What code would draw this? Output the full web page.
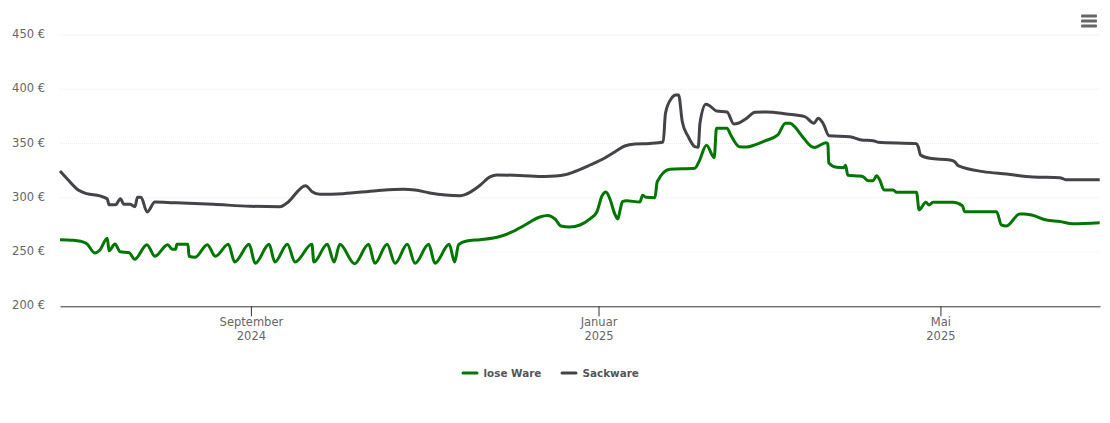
<!DOCTYPE html>
<html>
<head>
<meta charset="utf-8">
<script src="https://cdn.jsdelivr.net/npm/d3@7"></script>
<style>
  html, body { margin: 0; padding: 0; background: #fff; }
  text { font-family: "DejaVu Sans", sans-serif; }
</style>
</head>
<body>
<div id="chart"></div>
<script>
// Values. Days are counted from the first day of the chart.
const startDay = Date.UTC(2024, 5, 26);
const dayCount = 365;

const looseDays = [0, 4.7, 9.1, 12.3, 14, 16.6, 17.2, 19.3, 21.1, 24.3, 26.2, 30.5, 33.3, 37.8, 39.4, 40.6, 41, 44.9, 45.3, 47.4, 51.7, 54.5, 59.1, 61.3, 66.4, 68.5, 73.4, 75.4, 79.8, 82.5, 88.4, 89.1, 93.8, 96.2, 98.2, 103.4, 108.3, 110.5, 114.8, 117.6, 121.9, 124.6, 129.4, 131.6, 136.6, 138.5, 139.9, 142.7, 147.4, 154.4, 158.6, 163.2, 168.4, 171.2, 173.7, 175.8, 178.9, 182.5, 186, 188.4, 190.2, 191.6, 193, 194.7, 195.8, 196.5, 197.4, 198.8, 203.5, 204.5, 205.6, 208.8, 209.6, 214, 222.8, 224.2, 226.9, 229.6, 230.4, 234.1, 235.4, 238.4, 241, 243.9, 247.4, 251.9, 254.6, 256.1, 257.9, 260.4, 263.8, 264.9, 268.8, 269.5, 269.8, 272.5, 275.1, 275.7, 276.5, 280.7, 281.8, 283.6, 285.4, 286.6, 287.7, 289.2, 292.4, 293.6, 300.6, 301.5, 303.9, 305, 306.4, 313.4, 316.7, 317.5, 328.7, 330.4, 332.2, 336.8, 338.2, 341, 346.2, 350.9, 355.4, 364.9];
const looseValues = [261.4, 260.8, 258.3, 249.1, 251.9, 262.7, 251.2, 257.4, 250.3, 249.4, 243.3, 256.8, 246.1, 256.8, 252.5, 252.5, 257.1, 257.1, 246.1, 245.2, 256.8, 246.1, 257.1, 240.8, 257.1, 239.6, 257.1, 240.8, 257.1, 240.8, 257.1, 240.8, 257.1, 240.8, 257.1, 239.3, 257.1, 239.6, 257.1, 239.6, 257.1, 239.6, 257.1, 239.6, 257.1, 240.8, 256.8, 260.2, 261.4, 264.3, 268.5, 274.9, 282.3, 283.7, 280.5, 274, 273.1, 274.9, 280.5, 286.9, 301.7, 305.3, 298.9, 285.1, 280.5, 287.8, 296.4, 297.3, 296.1, 302.3, 300.5, 300.1, 314.8, 326.3, 327.2, 333, 348.4, 337, 364, 364, 357.9, 347.1, 346.8, 348.7, 352.4, 357.9, 368.7, 368.7, 365.3, 357, 347.1, 346.4, 350.8, 349.6, 332, 328.1, 327.7, 330, 320.7, 320.1, 319.5, 315.8, 315.8, 320.4, 316.4, 307.2, 307.2, 305.1, 305.1, 288.8, 295.9, 293.4, 295.9, 295.9, 292.7, 287.2, 287.2, 274.9, 274, 285.1, 285.1, 284.1, 279.5, 278.2, 276.1, 277];

const sackDays = [0, 2.9, 6.4, 9.4, 14, 16.6, 17.2, 19.5, 21.2, 22.4, 24.6, 26.3, 27.2, 28.4, 30.6, 33.3, 39.8, 53.8, 66.7, 77.2, 79.5, 86.2, 88.5, 91.2, 99.4, 111.1, 120.5, 124.6, 129.8, 140.4, 142.7, 147.4, 150.9, 153.3, 161.4, 170.2, 174, 177.2, 180.7, 186, 191.2, 194.7, 198.2, 201.8, 207, 211.7, 212.5, 214.6, 216.1, 217.1, 218.4, 220.5, 222.8, 224, 224.6, 226.7, 228.1, 230.4, 234.1, 236.5, 238, 241, 243.9, 248, 255, 261.4, 264.6, 266.1, 267.8, 269.9, 277.2, 281.3, 285.4, 287.1, 300.6, 301.2, 302, 305.3, 312.3, 314, 315.2, 324, 332.2, 341.5, 350.9, 353, 364.9];
const sackValues = [324.7, 316.4, 307.2, 303.8, 301.7, 298.9, 293.6, 293.6, 299.2, 294, 294, 291.8, 300.5, 300.5, 286.9, 296.1, 295.5, 294, 292.2, 291.8, 294.9, 311.2, 305.6, 303.2, 303.8, 306.5, 307.8, 307.2, 304.4, 301.9, 303.5, 311.5, 319.2, 321, 320.6, 319.6, 320, 321.2, 324.2, 330.2, 336.7, 342.2, 347.7, 349.6, 350.1, 351.4, 377.9, 391.7, 394.8, 394.8, 370.1, 356.3, 347.1, 346.5, 368.7, 386.2, 384.6, 380, 379.1, 368, 368.7, 373.3, 378.8, 379.1, 377.2, 374.8, 368.7, 373.3, 368.7, 357.2, 356.3, 353.3, 352.6, 351.2, 349.9, 347.1, 339.5, 336.4, 334.8, 333.3, 329.6, 324.1, 321.9, 319.2, 318.5, 316.7, 316.7];

const priceTicks = [200, 250, 300, 350, 400, 450];
const monthTicks = [Date.UTC(2024, 8, 1), Date.UTC(2025, 0, 1), Date.UTC(2025, 4, 1)];
const monthNames = ["September", "Januar", "Mai"];
const yearNames = ["2024", "2025", "2025"];

const seriesNames = ["lose Ware", "Sackware"];
const seriesColors = ["#037503", "#434348"];

const width = 1110;
const height = 423;
const margin = { top: 35, right: 10, bottom: 116.7, left: 60 };

const toDate = (d) => new Date(startDay + d * 864e5);

const svg = d3
  .select("#chart")
  .append("svg")
  .attr("width", width)
  .attr("height", height)
  .style("display", "block");

const x = d3
  .scaleUtc()
  .domain([toDate(0), toDate(dayCount)])
  .range([margin.left, width - margin.right]);

const y = d3
  .scaleLinear()
  .domain([200, 450])
  .range([height - margin.bottom, margin.top]);

// grid
svg
  .append("g")
  .selectAll("line")
  .data(priceTicks.slice(1))
  .enter()
  .append("line")
  .attr("x1", margin.left)
  .attr("x2", width - margin.right)
  .attr("y1", (d) => y(d))
  .attr("y2", (d) => y(d))
  .attr("stroke", "#ececec")
  .attr("stroke-dasharray", "1,1");

// y axis, labels only
const yAxis = d3
  .axisLeft(y)
  .tickValues(priceTicks)
  .tickSize(0)
  .tickPadding(15)
  .tickFormat((d) => `${d} €`);

const yGroup = svg.append("g").attr("transform", `translate(${margin.left},0)`).call(yAxis);
yGroup.select(".domain").remove();
yGroup
  .selectAll("text")
  .attr("fill", "#666")
  .style("font-size", "11.5px")
  .attr("dy", "0.22em");

// x axis, two line labels
const xAxis = d3
  .axisBottom(x)
  .tickValues(monthTicks.map((t) => new Date(t)))
  .tickSize(10)
  .tickSizeOuter(0)
  .tickFormat("");

const xGroup = svg
  .append("g")
  .attr("transform", `translate(0,${height - margin.bottom})`)
  .call(xAxis);
xGroup.select(".domain").attr("stroke", "#333");
xGroup.selectAll(".tick line").attr("stroke", "#333");

const xLabels = xGroup
  .selectAll(".tick text")
  .attr("fill", "#666")
  .attr("y", 0)
  .attr("dy", 0)
  .style("font-size", "11.5px");

xLabels
  .append("tspan")
  .attr("x", 0)
  .attr("y", 20)
  .text((d, i) => monthNames[i]);
xLabels
  .append("tspan")
  .attr("x", 0)
  .attr("y", 34)
  .text((d, i) => yearNames[i]);

// lines
const line = d3
  .line()
  .x((d) => x(toDate(d[0])))
  .y((d) => y(d[1]))
  .curve(d3.curveMonotoneX);

svg
  .append("path")
  .datum(sackDays.map((d, i) => [d, sackValues[i]]))
  .attr("d", line)
  .attr("fill", "none")
  .attr("stroke", seriesColors[1])
  .attr("stroke-width", 3)
  .attr("stroke-linejoin", "round");

svg
  .append("path")
  .datum(looseDays.map((d, i) => [d, looseValues[i]]))
  .attr("d", line)
  .attr("fill", "none")
  .attr("stroke", seriesColors[0])
  .attr("stroke-width", 3)
  .attr("stroke-linejoin", "round");

// legend
const legendX = [463, 562];
const legend = svg
  .append("g")
  .selectAll("g")
  .data(seriesNames)
  .enter()
  .append("g")
  .attr("transform", (d, i) => `translate(${legendX[i]},373)`);

legend
  .append("line")
  .attr("x2", 14)
  .attr("stroke", (d, i) => seriesColors[i])
  .attr("stroke-width", 3)
  .attr("stroke-linecap", "round");

legend
  .append("text")
  .attr("x", 20.5)
  .attr("dy", "0.35em")
  .attr("fill", "#555")
  .style("font-size", "10.4px")
  .style("font-weight", "bold")
  .text((d) => d);

// menu button
svg
  .append("g")
  .selectAll("rect")
  .data([0, 1, 2])
  .enter()
  .append("rect")
  .attr("x", 1081)
  .attr("y", (d) => 14.5 + d * 5)
  .attr("width", 16)
  .attr("height", 3)
  .attr("rx", 1)
  .attr("fill", "#666");
</script>
</body>
</html>
